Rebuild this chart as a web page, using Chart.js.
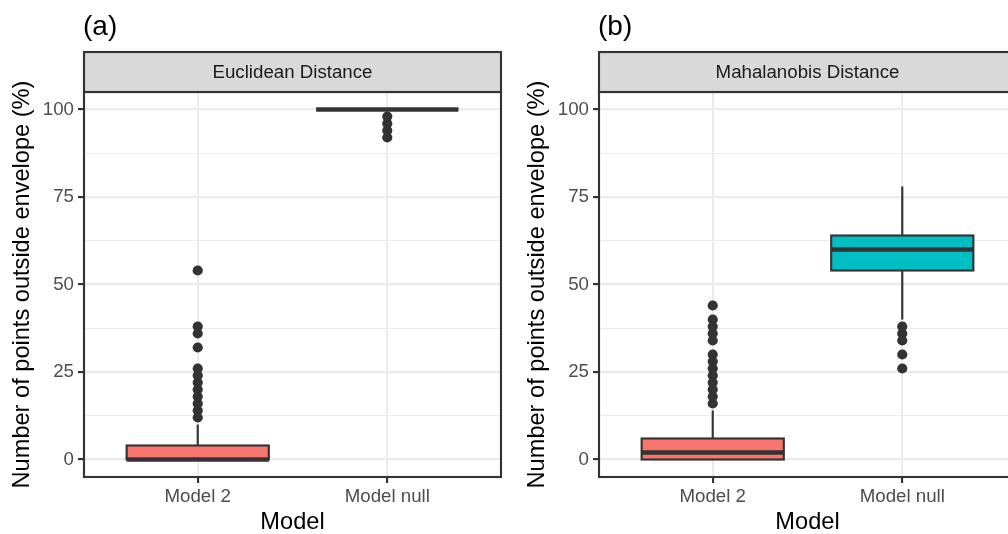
<!DOCTYPE html>
<html>
<head>
<meta charset="utf-8">
<script src="https://cdn.jsdelivr.net/npm/chart.js@4/dist/chart.umd.min.js"></script>
<style>
  html, body { margin: 0; padding: 0; background: #fff; }
  #wrap { position: relative; width: 1008px; height: 534px; overflow: hidden; background: #fff; }
  #wrap canvas { position: absolute; top: 0; }
</style>
</head>
<body>
<div id="wrap">
  <canvas id="panelA" width="515" height="534" style="left:0"></canvas>
  <canvas id="panelB" width="515" height="534" style="left:515px"></canvas>
</div>
<script>
const categories = ["Model 2", "Model null"];
const yTicks = [0, 25, 50, 75, 100];

// Euclidean distance: whisker ends, quartiles, median per model
const eucLower  = [0, 100];
const eucQ1     = [0, 100];
const eucMedian = [0, 100];
const eucQ3     = [4, 100];
const eucUpper  = [10, 100];
const eucOut2    = [12, 14, 16, 18, 20, 22, 24, 26, 32, 36, 38, 54];
const eucOutNull = [92, 94, 96, 98];

// Mahalanobis distance
const mahLower  = [0, 40];
const mahQ1     = [0, 54];
const mahMedian = [2, 60];
const mahQ3     = [6, 64];
const mahUpper  = [14, 78];
const mahOut2    = [16, 18, 20, 22, 24, 26, 28, 30, 34, 36, 38, 40, 44];
const mahOutNull = [26, 30, 34, 36, 38];

const fillColors = ["#F8766D", "#00BFC4"];
const FONT = "'Liberation Sans', Arial, Helvetica, sans-serif";
const SMALL = 18.7;
const TITLE = 23.6;
const LW = 2.13;
const BOX_W = 0.75;

// grid at every 12.5, labelled only on the major ticks
const gridValues = [];
for (let i = 0; i < yTicks.length; i++) {
  gridValues.push(yTicks[i]);
  if (i < yTicks.length - 1) gridValues.push((yTicks[i] + yTicks[i + 1]) / 2);
}
const isMajor = v => yTicks.includes(v);

function panelPlugin(tag, stripLabel, stats) {
  return {
    id: "panel",
    afterDatasetsDraw(chart) {
      const { ctx, chartArea: a, scales: { x, y } } = chart;
      ctx.save();
      ctx.beginPath();
      ctx.rect(a.left, a.top, a.right - a.left, a.bottom - a.top);
      ctx.clip();
      ctx.strokeStyle = "#333333";
      stats.median.forEach((m, i) => {
        const cx = x.getPixelForValue(i + 1);
        const x0 = x.getPixelForValue(i + 1 - BOX_W / 2);
        const x1 = x.getPixelForValue(i + 1 + BOX_W / 2);
        const yq1 = y.getPixelForValue(stats.q1[i]);
        const yq3 = y.getPixelForValue(stats.q3[i]);
        // whiskers
        ctx.lineWidth = LW;
        ctx.beginPath();
        ctx.moveTo(cx, y.getPixelForValue(stats.upper[i]));
        ctx.lineTo(cx, yq3);
        ctx.moveTo(cx, yq1);
        ctx.lineTo(cx, y.getPixelForValue(stats.lower[i]));
        ctx.stroke();
        // box
        ctx.fillStyle = fillColors[i];
        ctx.fillRect(x0, yq3, x1 - x0, yq1 - yq3);
        ctx.strokeRect(x0, yq3, x1 - x0, yq1 - yq3);
        // median
        ctx.lineWidth = LW * 2;
        ctx.beginPath();
        ctx.moveTo(x0, y.getPixelForValue(m));
        ctx.lineTo(x1, y.getPixelForValue(m));
        ctx.stroke();
      });
      ctx.restore();
    },
    afterDraw(chart) {
      const { ctx, chartArea: a } = chart;
      ctx.save();
      ctx.lineWidth = LW;
      ctx.strokeStyle = "#333333";
      ctx.strokeRect(a.left, a.top, a.right - a.left, a.bottom - a.top);
      // facet strip
      ctx.fillStyle = "#D9D9D9";
      ctx.fillRect(a.left, 52, a.right - a.left, a.top - 52);
      ctx.strokeRect(a.left, 52, a.right - a.left, a.top - 52);
      ctx.fillStyle = "#1A1A1A";
      ctx.font = SMALL + "px " + FONT;
      ctx.textAlign = "center";
      ctx.textBaseline = "middle";
      ctx.fillText(stripLabel, (a.left + a.right) / 2, (52 + a.top) / 2 + 1);
      // panel tag
      ctx.fillStyle = "#000000";
      ctx.font = "28px " + FONT;
      ctx.textAlign = "left";
      ctx.textBaseline = "alphabetic";
      ctx.fillText(tag, a.left - 1, 35);
      ctx.restore();
    }
  };
}

function makePanel(id, tag, stripLabel, stats, out2, outNull) {
  const points = out2.map(v => ({ x: 1, y: v })).concat(outNull.map(v => ({ x: 2, y: v })));
  return new Chart(document.getElementById(id), {
    type: "scatter",
    data: {
      datasets: [{
        data: points,
        pointRadius: 5.1,
        pointHoverRadius: 5.1,
        backgroundColor: "#333333",
        borderWidth: 0
      }]
    },
    options: {
      responsive: false,
      animation: false,
      events: [],
      layout: { padding: { top: 92, right: 14, left: 0, bottom: 0 } },
      plugins: { legend: { display: false }, tooltip: { enabled: false } },
      scales: {
        x: {
          type: "linear",
          min: 0.4,
          max: 2.6,
          afterBuildTicks: s => { s.ticks = categories.map((c, i) => ({ value: i + 1 })); },
          afterFit: s => { s.height = 57; },
          ticks: {
            callback: (v, i) => categories[i],
            color: "#4D4D4D",
            font: { family: FONT, size: SMALL },
            padding: 3,
            maxRotation: 0,
            autoSkip: false
          },
          grid: { color: "#EBEBEB", lineWidth: LW, tickLength: 6, tickColor: "#333333", tickWidth: LW },
          border: { display: false },
          title: {
            display: true,
            text: "Model",
            color: "#000000",
            font: { family: FONT, size: TITLE, lineHeight: 1 },
            padding: 0
          }
        },
        y: {
          type: "linear",
          min: -5,
          max: 105,
          afterBuildTicks: s => { s.ticks = gridValues.map(v => ({ value: v })); },
          afterFit: s => { s.width = 84; },
          ticks: {
            callback: v => (isMajor(v) ? String(v) : ""),
            color: "#4D4D4D",
            font: { family: FONT, size: SMALL },
            padding: 4,
            autoSkip: false
          },
          grid: {
            color: "#EBEBEB",
            lineWidth: c => (isMajor(c.tick.value) ? LW : LW / 2),
            tickLength: 6,
            tickColor: c => (isMajor(c.tick.value) ? "#333333" : "rgba(0,0,0,0)"),
            tickWidth: LW
          },
          border: { display: false },
          title: {
            display: true,
            text: "Number of points outside envelope (%)",
            color: "#000000",
            font: { family: FONT, size: TITLE, lineHeight: 1 },
            padding: { top: 11, bottom: 0 }
          }
        }
      }
    },
    plugins: [panelPlugin(tag, stripLabel, stats)]
  });
}

makePanel("panelA", "(a)", "Euclidean Distance",
  { lower: eucLower, q1: eucQ1, median: eucMedian, q3: eucQ3, upper: eucUpper },
  eucOut2, eucOutNull);

makePanel("panelB", "(b)", "Mahalanobis Distance",
  { lower: mahLower, q1: mahQ1, median: mahMedian, q3: mahQ3, upper: mahUpper },
  mahOut2, mahOutNull);
</script>
</body>
</html>
